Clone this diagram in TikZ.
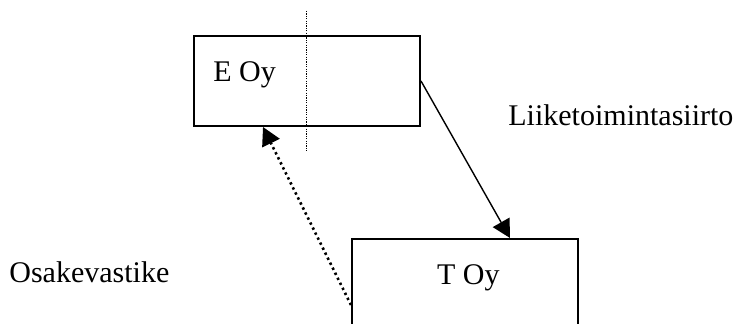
\documentclass[tikz,border=0pt]{standalone}
\usepackage{fontspec}
\setmainfont{Liberation Serif}
\usetikzlibrary{arrows.meta,calc}
\begin{document}
\begin{tikzpicture}[x=0.5pt,y=-0.5pt,
  company/.style={draw,line width=1pt,minimum width=113pt,minimum height=45pt,inner sep=0pt},
  caption/.style={inner sep=0pt,anchor=base west,font=\fontsize{15}{18}\selectfont},
  flow/.style={line width=0.7pt,-{Triangle[length=9pt,width=9.5pt]}},
  payment/.style={line width=1.3pt,dash pattern=on 1.2pt off 1.6pt,-{Triangle[length=9pt,width=9.5pt]}},
  divider/.style={line width=0.5pt,dash pattern=on 0.6pt off 0.6pt}]
\useasboundingbox (0,0) rectangle (733,324);
\clip (0,0) rectangle (733,324);

% companies
\node[company] (E) at (307,81) {};
\node[company] (T) at (465,284) {};
\node[caption] (Elabel) at (213,81.7) {E Oy};
\node[caption] (Tlabel) at (436.7,285) {T Oy};

% dividing line through E Oy
\draw[divider] ($(E.north)+(-0.3,-24)$) -- ($(E.south)+(-0.3,24)$);

% side captions
\node[caption] (transfer) at (508,125.5) {Liiketoimintasiirto};
\node[caption] (shares) at (9,283) {Osakevastike};

% connectors
\coordinate (Tin) at ($(T.north)+(45,0)$);
\coordinate (Tout) at ($(T.west)+(0,21)$);
\coordinate (Ein) at ($(E.south)+(-44,0)$);
\draw[flow] (E.east) -- (Tin);
\draw[payment] (Tout) -- (Ein);
\end{tikzpicture}
\end{document}
